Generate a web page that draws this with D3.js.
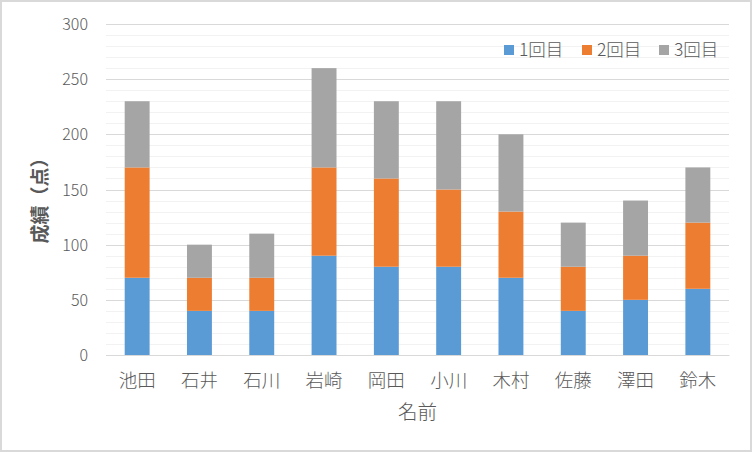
<!DOCTYPE html>
<html><head><meta charset="utf-8">
<script src="https://cdn.jsdelivr.net/npm/d3@7"></script>
<style>
body{margin:0;background:#fff;}
svg{display:block;font-family:"Noto Sans CJK JP","Noto Sans",sans-serif;}
</style></head>
<body><svg id="c" width="752" height="452"></svg>
<script>
const names = ["池田","石井","石川","岩崎","岡田","小川","木村","佐藤","澤田","鈴木"];
const series = ["1回目","2回目","3回目"];
const round1 = [70,40,40,90,80,80,70,40,50,60];
const round2 = [100,30,30,80,80,70,60,40,40,60];
const round3 = [60,30,40,90,70,80,70,40,50,50];
const yTicks = [0,50,100,150,200,250,300];
const colors = ["#5b9bd5","#ed7d31","#a5a5a5"];

const svg = d3.select("#c");
svg.append("rect").attr("x",1).attr("y",1).attr("width",750).attr("height",450)
  .attr("fill","#fff").attr("stroke","#d9d9d9").attr("stroke-width",2);

const L=106,R=729,T=24,B=355;
const x = d3.scaleBand().domain(names).range([L,R]).paddingInner(0.6).paddingOuter(0.3);
const y = d3.scaleLinear().domain([0,300]).range([B,T]);

const g = svg.append("g");
g.selectAll("line.minor").data(d3.range(10,300,10).filter(v=>v%50!==0)).join("line")
  .attr("x1",L).attr("x2",R).attr("y1",d=>Math.round(y(d))+0.5).attr("y2",d=>Math.round(y(d))+0.5)
  .attr("stroke","#f2f2f2").attr("stroke-width",1);
g.selectAll("line.major").data(yTicks).join("line")
  .attr("x1",L).attr("x2",R).attr("y1",d=>Math.round(y(d))+0.5).attr("y2",d=>Math.round(y(d))+0.5)
  .attr("stroke","#d9d9d9").attr("stroke-width",1);

const data = names.map((n,i)=>({name:n,"1回目":round1[i],"2回目":round2[i],"3回目":round3[i]}));
const stack = d3.stack().keys(series)(data);
svg.append("g").selectAll("g").data(stack).join("g").attr("fill",(d,i)=>colors[i])
  .selectAll("rect").data(d=>d).join("rect")
  .attr("x",d=>x(d.data.name)).attr("width",x.bandwidth())
  .attr("y",d=>y(d[1])).attr("height",d=>y(d[0])-y(d[1]));

const ya = d3.axisLeft(y).tickValues(yTicks).tickSize(0).tickPadding(18);
const yg = svg.append("g").attr("transform",`translate(${L},0)`).call(ya);
yg.select(".domain").remove();
yg.selectAll("text").attr("font-size",16).attr("fill","#595959").attr("font-family","Noto Sans CJK JP")
  .attr("font-weight",300).attr("dy","0.35em");

const xa = d3.axisBottom(x).tickSize(0);
const xg = svg.append("g").attr("transform",`translate(0,${B})`).call(xa);
xg.select(".domain").attr("stroke","#d9d9d9");
xg.selectAll("text").attr("font-size",18.5).attr("fill","#595959").attr("font-family","Noto Sans CJK JP")
  .attr("font-weight",300).attr("y",25.5).attr("dy","0.35em");

svg.append("text").attr("x",(L+R)/2).attr("y",412).attr("dy","0.35em").attr("text-anchor","middle")
  .attr("font-size",19.5).attr("font-weight",300).attr("fill","#595959").text("名前");
svg.append("text").attr("transform","translate(40,196) rotate(-90)").attr("dy","0.35em").attr("text-anchor","middle")
  .attr("font-size",19).attr("font-weight","bold").attr("fill","#595959").text("成績（点）");

const legX=[504,582,659];
const lg = svg.append("g").selectAll("g").data(series).join("g")
  .attr("transform",(d,i)=>`translate(${legX[i]},45)`);
lg.append("rect").attr("width",10).attr("height",10).attr("fill",(d,i)=>colors[i]);
lg.append("text").attr("x",15).attr("y",5).attr("dy","0.35em").attr("font-size",17.5).attr("font-weight",300)
  .attr("fill","#595959").text(d=>d);
</script></body></html>
